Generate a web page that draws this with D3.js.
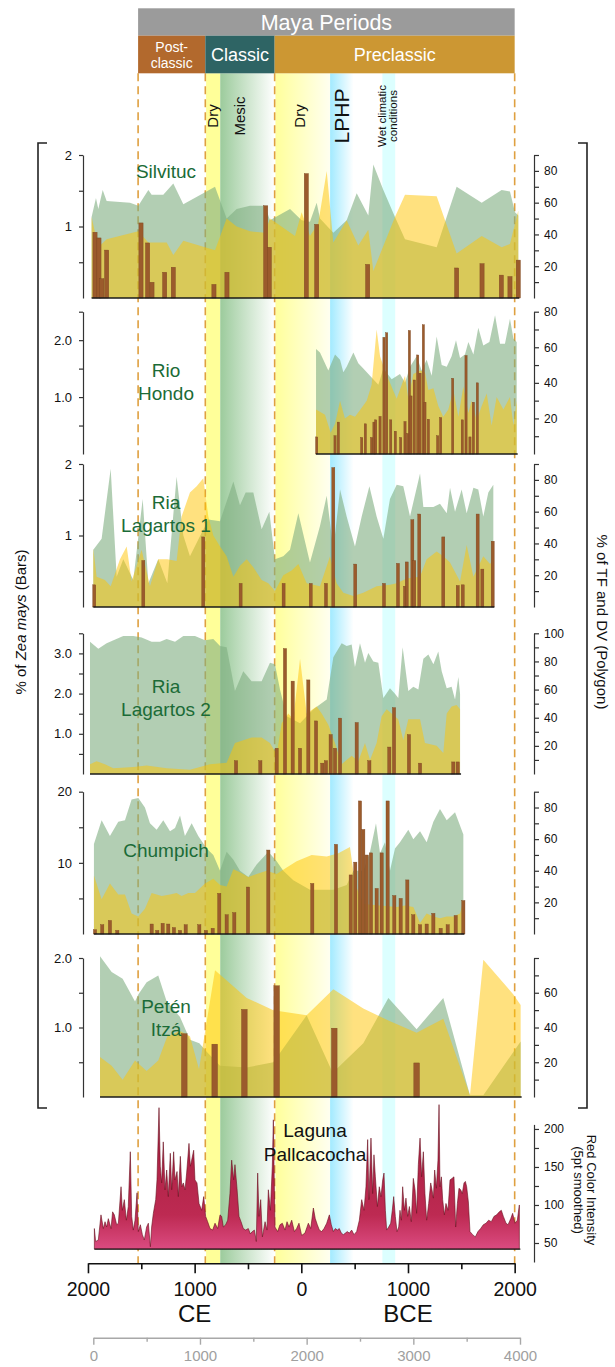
<!DOCTYPE html>
<html>
<head>
<meta charset="utf-8">
<script src="https://cdn.jsdelivr.net/npm/d3@7"></script>
<style>
  body { margin: 0; background: #fff; }
  svg { display: block; font-family: "Liberation Sans", Arial, sans-serif; }
</style>
</head>
<body>
<svg id="chart" width="615" height="1367"></svg>
<script>
// ages are cal yr BP (0 BP = 1950 CE)
const silvitucTF = [[-16,51],[25,63],[47,56],[88,68],[125,61],[344,60],[422,58],[516,68],[547,65],[656,65],[750,72],[844,59],[1141,70],[1250,50],[1344,56],[1469,58],[1609,58],[1656,49],[1844,56],[1953,49],[2031,48],[2094,60],[2125,50],[2250,41],[2375,49],[2469,66],[2578,52],[2625,84],[2719,68],[2828,51],[2922,37],[3219,32],[3406,70],[3641,60],[3828,68],[3906,67],[3953,54],[3984,52]];
const silvitucDV = [[-16,51],[47,32],[125,37],[422,42],[516,35],[688,35],[750,27],[844,36],[1141,30],[1250,50],[1344,45],[1469,42],[1609,41],[1656,50],[1891,39],[1953,54],[2031,39],[2109,47],[2188,80],[2250,35],[2375,49],[2484,33],[2578,43],[2625,17],[2828,51],[2922,65],[3219,64],[3406,28],[3641,39],[3828,32],[3906,34],[3984,55]];
const silvitucZea = [[16,0.92],[53,0.84],[80,0.27],[125,0.67],[447,1.05],[509,0.77],[550,0.22],[669,0.36],[750,0.43],[1131,0.19],[1253,0.36],[1616,1.29],[1650,0.71],[1997,1.74],[2094,1.03],[2572,0.47],[3406,0.42],[3644,0.48],[3825,0.32],[3906,0.30],[3984,0.53]];

const rioHondoTF = [[2088,59],[2125,57],[2203,47],[2266,56],[2313,53],[2344,46],[2375,49],[2438,57],[2484,51],[2531,48],[2594,44],[2672,39],[2719,48],[2797,42],[2875,45],[2922,40],[2969,49],[3031,55],[3078,47],[3125,53],[3172,44],[3219,66],[3266,50],[3313,49],[3359,55],[3400,64],[3438,54],[3484,56],[3516,63],[3563,56],[3609,71],[3656,61],[3713,63],[3766,78],[3813,62],[3859,62],[3906,76],[3938,65],[3969,63]];
const rioHondoDV = [[2088,25],[2172,22],[2225,12],[2266,17],[2313,30],[2359,20],[2406,22],[2453,21],[2516,26],[2563,30],[2609,39],[2656,70],[2688,55],[2734,47],[2781,40],[2844,31],[2922,44],[2953,31],[3000,45],[3063,47],[3109,46],[3141,36],[3188,37],[3234,27],[3281,21],[3328,25],[3375,36],[3422,21],[3469,38],[3516,23],[3547,30],[3594,19],[3641,27],[3688,34],[3734,16],[3781,32],[3844,25],[3906,32],[3938,16],[3969,30]];
const rioHondoZea = [[2094,0.30],[2266,0.32],[2297,0.56],[2516,0.29],[2550,0.53],[2609,0.29],[2631,0.56],[2647,0.60],[2688,0.66],[2725,2.05],[2750,2.13],[2788,0.60],[2831,0.40],[2881,0.29],[2922,0.57],[2947,0.36],[2963,2.17],[2978,1.02],[3009,1.30],[3041,1.74],[3063,1.42],[3094,2.27],[3109,0.91],[3141,0.61],[3228,0.32],[3256,0.64],[3369,1.33],[3459,0.60],[3494,1.73],[3531,0.30],[3563,0.91],[3600,1.25]];

const lagartos1TF = [[0,36],[78,43],[163,87],[219,19],[281,30],[375,17],[463,68],[516,15],[609,30],[694,15],[781,82],[844,45],[906,32],[1078,55],[1188,54],[1313,79],[1375,64],[1428,72],[1500,72],[1578,49],[1650,60],[1703,30],[1781,32],[1844,36],[1922,59],[2031,28],[2125,51],[2188,70],[2250,36],[2313,74],[2375,57],[2453,38],[2516,57],[2588,76],[2656,57],[2719,43],[2781,68],[2844,77],[2906,76],[2969,57],[3063,84],[3094,63],[3188,63],[3250,65],[3313,59],[3344,75],[3391,60],[3453,74],[3500,59],[3563,75],[3609,74],[3656,57],[3703,72],[3750,77]];
const lagartos1DV = [[0,37],[31,19],[109,17],[163,13],[250,30],[313,38],[359,16],[453,36],[531,13],[609,30],[694,30],[781,29],[828,57],[906,72],[969,76],[1031,81],[1078,57],[1125,45],[1188,38],[1250,32],[1313,19],[1375,26],[1438,30],[1500,25],[1578,17],[1641,15],[1703,10],[1781,20],[1859,23],[1922,27],[2000,15],[2125,13],[2219,32],[2281,15],[2344,9],[2438,7],[2531,9],[2656,13],[2781,14],[2844,15],[2938,18],[3063,19],[3125,30],[3219,35],[3281,32],[3344,28],[3438,16],[3500,39],[3563,19],[3656,32],[3719,27],[3750,30]];
const lagartos1Zea = [[9,0.31],[469,0.65],[1031,0.98],[1381,0.33],[1784,0.33],[2038,0.33],[2181,0.33],[2250,1.95],[2456,0.60],[2725,0.33],[2856,0.61],[2922,0.29],[2938,0.63],[2991,1.22],[3009,0.65],[3056,1.30],[3281,0.98],[3416,0.30],[3463,0.31],[3603,1.30],[3647,0.53],[3744,0.92]];

const lagartos2TF = [[-31,94],[47,89],[125,93],[281,98],[375,98],[453,97],[547,94],[625,94],[688,96],[766,94],[844,98],[953,98],[1047,95],[1125,96],[1188,91],[1250,90],[1328,59],[1406,73],[1484,66],[1578,66],[1656,79],[1703,78],[1750,60],[1813,41],[1938,36],[2063,46],[2188,53],[2250,83],[2328,93],[2375,91],[2422,92],[2453,76],[2500,93],[2547,79],[2578,86],[2625,80],[2672,79],[2719,54],[2781,61],[2828,57],[2859,54],[2900,90],[2953,59],[3000,62],[3047,60],[3094,82],[3141,85],[3188,78],[3234,87],[3266,73],[3313,61],[3359,62],[3391,53],[3422,69],[3438,57]];
const lagartos2DV = [[-31,7],[31,9],[109,7],[188,4],[375,5],[500,6],[688,4],[906,3],[1094,7],[1250,8],[1328,22],[1484,26],[1578,26],[1656,22],[1719,14],[1766,36],[1828,43],[1875,39],[1938,82],[2000,43],[2094,48],[2141,43],[2203,35],[2266,22],[2328,7],[2422,13],[2484,9],[2547,22],[2594,10],[2656,22],[2703,41],[2750,46],[2859,39],[2906,24],[2953,39],[3063,39],[3109,22],[3219,20],[3281,15],[3313,43],[3359,48],[3406,49],[3438,46]];
const lagartos2Zea = [[1338,0.33],[1566,0.33],[1719,0.64],[1797,3.12],[1869,2.31],[1938,0.64],[2016,2.34],[2088,1.32],[2147,0.27],[2181,0.33],[2225,0.98],[2266,0.64],[2313,1.39],[2469,1.28],[2588,0.33],[2775,0.67],[2819,1.65],[2959,0.98],[3063,0.27],[3375,0.30],[3416,0.30]];

const chumpichTF = [[6,57],[78,72],[156,62],[234,71],[297,72],[359,85],[422,86],[484,80],[531,70],[594,66],[656,72],[719,65],[766,67],[813,75],[859,62],[922,70],[984,62],[1063,54],[1125,50],[1188,40],[1250,52],[1313,47],[1375,40],[1453,36],[1531,44],[1641,52],[1719,46],[1781,40],[1875,34],[2031,28],[2250,28],[2375,31],[2438,40],[2531,40],[2594,52],[2650,70],[2688,51],[2734,58],[2781,40],[2828,54],[2875,58],[2953,66],[3000,60],[3063,65],[3125,58],[3188,71],[3250,79],[3313,72],[3391,77],[3469,63]];
const chumpichDV = [[6,37],[78,22],[156,32],[234,25],[297,25],[359,13],[422,11],[484,16],[547,26],[641,24],[719,25],[781,26],[828,24],[891,26],[953,26],[1047,32],[1125,35],[1188,31],[1250,30],[1313,41],[1375,39],[1453,36],[1531,38],[1625,40],[1719,38],[1813,42],[1906,46],[2047,50],[2188,49],[2297,51],[2406,55],[2453,32],[2531,19],[2688,18],[2844,17],[2922,18],[3000,17],[3063,7],[3125,13],[3188,11],[3250,10],[3313,11],[3375,11],[3438,13],[3469,21]];
const chumpichZea = [[16,0.6],[84,1.3],[156,1.9],[225,0.5],[547,1.4],[600,0.5],[650,1.5],[703,1.4],[756,0.9],[813,0.5],[866,1.3],[994,1.3],[1056,0.5],[1119,0.8],[1181,5.7],[1250,2.7],[1322,3.0],[1450,6.6],[1641,11.8],[2053,7.1],[2275,12.6],[2413,8.3],[2456,10.1],[2500,18.7],[2531,14.7],[2563,11.1],[2603,11.4],[2656,6.4],[2703,11.4],[2759,18.7],[2822,5.4],[2881,5.0],[2944,7.6],[3000,2.7],[3063,1.3],[3125,1.4],[3188,2.9],[3256,0.8],[3322,1.3],[3397,2.6],[3469,4.7]];

const petenTF = [[63,81],[172,72],[275,68],[391,55],[422,59],[500,66],[609,70],[688,55],[813,46],[906,33],[994,31],[1063,26],[1188,18],[1438,17],[1688,20],[2000,47],[2244,14],[2531,31],[2766,57],[3031,39],[3281,57],[3531,1],[3656,1],[4006,32]];
const petenDV = [[63,23],[172,18],[275,10],[391,21],[500,15],[609,21],[694,35],[813,38],[906,35],[991,16],[1141,73],[1438,57],[1688,50],[2000,47],[2250,62],[2531,51],[2766,44],[3031,37],[3281,45],[3531,1],[3656,79],[3938,59],[4006,53]];
const petenZea = [[853,0.91],[1138,0.76],[1416,1.26],[1719,1.60],[2259,0.99],[3031,0.49]];

const pallcacochaRed = [[10,69],[22,52],[47,54],[72,87],[94,69],[110,78],[125,71],[141,82],[166,69],[181,91],[197,87],[219,74],[235,76],[260,124],[272,93],[291,107],[310,80],[328,98],[347,170],[360,85],[375,67],[391,80],[410,116],[422,65],[441,74],[460,61],[478,54],[500,71],[516,76],[535,45],[547,71],[563,89],[585,107],[597,133],[616,228],[628,151],[641,129],[656,183],[672,120],[688,146],[703,111],[722,168],[735,120],[753,170],[766,133],[785,144],[797,111],[816,164],[829,124],[844,129],[860,120],[875,142],[897,181],[910,151],[922,159],[941,172],[953,133],[972,129],[991,102],[1016,93],[1035,111],[1053,85],[1072,78],[1094,69],[1119,67],[1141,76],[1166,69],[1188,87],[1203,85],[1219,71],[1241,74],[1260,80],[1281,115],[1297,159],[1316,133],[1328,153],[1347,122],[1366,85],[1385,78],[1406,69],[1428,67],[1453,69],[1472,62],[1491,65],[1510,67],[1528,52],[1541,142],[1553,85],[1569,107],[1585,58],[1610,78],[1628,67],[1641,120],[1660,93],[1678,151],[1688,212],[1703,71],[1728,65],[1750,74],[1772,76],[1797,67],[1816,78],[1835,71],[1860,80],[1885,65],[1906,69],[1928,76],
  [1953,60],[1984,63],[2016,76],[2038,69],[2063,96],[2081,82],[2100,74],[2119,67],[2141,65],[2163,69],[2188,76],[2213,87],[2231,74],[2250,65],[2269,69],[2288,67],[2306,69],[2325,63],[2344,61],[2363,63],[2381,65],[2400,63],[2422,67],[2444,61],[2469,65],[2494,80],[2516,107],[2538,93],[2556,124],[2572,186],[2584,107],[2603,188],[2619,115],[2631,166],[2644,137],[2663,98],[2681,124],[2697,111],[2713,133],[2725,142],[2738,93],[2750,67],[2769,71],[2788,76],[2803,93],[2816,111],[2831,85],[2847,65],[2863,71],[2875,93],[2888,80],[2900,124],[2916,93],[2931,109],[2947,85],[2963,98],[2981,78],[3000,135],[3016,120],[3031,89],[3047,153],[3063,188],[3078,137],[3094,170],[3109,115],[3125,80],[3144,102],[3163,129],[3175,120],[3188,109],[3200,146],[3216,122],[3231,159],[3241,232],[3250,124],[3263,137],[3275,107],[3291,87],[3306,102],[3325,93],[3344,133],[3363,135],[3381,137],[3397,71],[3413,102],[3428,122],[3444,120],[3459,115],[3475,129],[3488,131],[3500,124],[3516,104],[3531,65],[3556,61],[3581,58],[3606,65],[3631,69],[3656,74],[3681,76],[3706,80],[3731,78],[3756,85],[3781,87],[3806,91],[3825,93],[3844,85],[3869,76],[3888,74],[3913,82],[3931,89],[3953,76],[3975,80],[3994,100]];

const periodNames = [["Post-", "classic"], ["Classic"], ["Preclassic"]];
const periodBounds = [420, 1050, 1700, 3950];
const yearTicks = [2000, 1500, 1000, 500, 0, -500, -1000, -1500, -2000];
const bpTicks = [0, 500, 1000, 1500, 2000, 2500, 3000, 3500, 4000];

const svg = d3.select("#chart");
const defs = svg.append("defs");
const x = d3.scaleLinear().domain([0, 4000]).range([93.3, 520]);
const BAND_TOP = 73.3, BAND_BOT = 1263.3;

function hGrad(id, c0, c1) {
  const g = defs.append("linearGradient").attr("id", id).attr("x1", 0).attr("x2", 1).attr("y1", 0).attr("y2", 0);
  g.append("stop").attr("offset", 0).attr("stop-color", c0);
  g.append("stop").attr("offset", 1).attr("stop-color", c1);
}

// climate bands
const bands = [
  { from: 1050, to: 1190, id: "bDry1", c0: "#ffff99", c1: "#ffff99" },
  { from: 1190, to: 1700, id: "bMesic", c0: "#9ccb9c", c1: "#ffffff" },
  { from: 1700, to: 2220, id: "bDry2", c0: "#ffff9a", c1: "#fffff0" },
  { from: 2220, to: 2440, id: "bLphp", c0: "#a2eaff", c1: "#ffffff" },
  { from: 2710, to: 2830, id: "bWet", c0: "#dcffff", c1: "#dcffff" }
];
bands.forEach(b => {
  hGrad(b.id, b.c0, b.c1);
  svg.append("rect").attr("x", x(b.from)).attr("y", BAND_TOP)
    .attr("width", x(b.to) - x(b.from)).attr("height", BAND_BOT - BAND_TOP)
    .attr("fill", `url(#${b.id})`);
});

// period boundaries
periodBounds.forEach(a => {
  svg.append("line").attr("x1", x(a)).attr("x2", x(a)).attr("y1", BAND_TOP).attr("y2", BAND_BOT)
    .attr("stroke", "#fff").attr("stroke-width", 1.6);
  svg.append("line").attr("x1", x(a)).attr("x2", x(a)).attr("y1", BAND_TOP).attr("y2", BAND_BOT)
    .attr("stroke", "#dfa040").attr("stroke-width", 1.6).attr("stroke-dasharray", "8,5");
});

// header
svg.append("rect").attr("x", x(420)).attr("y", 8.3).attr("width", x(3950) - x(420)).attr("height", 27.4).attr("fill", "#9b9b9b");
svg.append("text").attr("x", (x(420) + x(3950)) / 2).attr("y", 29.5).attr("text-anchor", "middle")
  .attr("fill", "#fff").attr("font-size", 21.5).text("Maya Periods");
const periodFill = ["#b2692d", "#2e6464", "#cc9733"];
periodNames.forEach((lines, i) => {
  const x0 = x(periodBounds[i]), x1 = x(periodBounds[i + 1]);
  svg.append("rect").attr("x", x0).attr("y", 35.7).attr("width", x1 - x0).attr("height", 37.6).attr("fill", periodFill[i]);
  const t = svg.append("text").attr("text-anchor", "middle").attr("fill", "#fff")
    .attr("font-size", lines.length > 1 ? 14 : 18);
  lines.forEach((s, j) => {
    t.append("tspan").attr("x", (x0 + x1) / 2)
      .attr("y", lines.length > 1 ? 51.5 + j * 16 : 60.5).text(s);
  });
});

// band labels
const bandLabels = [
  { age: 1117, text: "Dry", size: 15 },
  { age: 1374, text: "Mesic", size: 15 },
  { age: 1936, text: "Dry", size: 15 },
  { age: 2327, text: "LPHP", size: 21 },
  { age: 2704, text: "Wet climatic", size: 11.5 },
  { age: 2810, text: "conditions", size: 11.5 }
];
bandLabels.forEach(l => {
  svg.append("text").attr("transform", `translate(${x(l.age)},116) rotate(-90)`)
    .attr("text-anchor", "middle").attr("dominant-baseline", "central")
    .attr("font-size", l.size).attr("fill", "#111").text(l.text);
});

// proxy panels
const panels = [
  { name: ["Silvituc"], ny: 178, base: 298, top: 155, lMax: 2, lStep: 0.5, lLab: [1, 2], fmt: d3.format("d"), rMax: 90, rLab: [20, 40, 60, 80], tf: silvitucTF, dv: silvitucDV, zea: silvitucZea, bw: 4.2 },
  { name: ["Rio", "Hondo"], ny: 377, base: 454, top: 311.7, lMax: 2.5, lStep: 0.5, lLab: [1, 2], fmt: d3.format(".1f"), rMax: 80, rLab: [20, 40, 60, 80], tf: rioHondoTF, dv: rioHondoDV, zea: rioHondoZea, bw: 2.2 },
  { name: ["Ria", "Lagartos 1"], ny: 509, base: 607, top: 464, lMax: 2, lStep: 0.5, lLab: [1, 2], fmt: d3.format("d"), rMax: 90, rLab: [20, 40, 60, 80], tf: lagartos1TF, dv: lagartos1DV, zea: lagartos1Zea, bw: 3 },
  { name: ["Ria", "Lagartos 2"], ny: 693, base: 774, top: 633.3, lMax: 3.5, lStep: 0.5, lLab: [1, 2, 3], fmt: d3.format(".1f"), rMax: 100, rLab: [20, 40, 60, 80, 100], tf: lagartos2TF, dv: lagartos2DV, zea: lagartos2Zea, bw: 3.2 },
  { name: ["Chumpich"], ny: 857, base: 934, top: 791.7, lMax: 20, lStep: 5, lLab: [10, 20], fmt: d3.format("d"), rMax: 90, rLab: [20, 40, 60, 80], tf: chumpichTF, dv: chumpichDV, zea: chumpichZea, bw: 3.2 },
  { name: ["Petén", "Itzá"], ny: 1013, base: 1097, top: 958, lMax: 2, lStep: 0.5, lLab: [1, 2], fmt: d3.format(".1f"), rMax: 80, rLab: [20, 40, 60], tf: petenTF, dv: petenDV, zea: petenZea, bw: 5.6 }
];

panels.forEach(p => {
  const yL = d3.scaleLinear().domain([0, p.lMax]).range([p.base, p.top]);
  const yR = d3.scaleLinear().domain([0, p.rMax]).range([p.base, p.top]);
  const g = svg.append("g");
  const area = d3.area().x(d => x(d[0])).y0(p.base).y1(d => yR(d[1]));
  g.append("path").datum(p.tf).attr("d", area).attr("fill", "#7fae80").attr("fill-opacity", 0.6);
  g.append("path").datum(p.dv).attr("d", area).attr("fill", "#ffc400").attr("fill-opacity", 0.5);

  g.selectAll("rect.zea").data(p.zea).join("rect").attr("class", "zea")
    .attr("x", d => x(d[0]) - p.bw / 2).attr("y", d => yL(d[1]))
    .attr("width", p.bw).attr("height", d => p.base - yL(d[1]))
    .attr("fill", "#9b5b2c").attr("stroke", "#7a4520").attr("stroke-width", 0.4);

  const ext = d3.extent([...p.tf, ...p.dv, ...p.zea], d => d[0]);
  g.append("line").attr("x1", x(ext[0])).attr("x2", x(ext[1]) + 1).attr("y1", p.base).attr("y2", p.base)
    .attr("stroke", "#1a1a1a").attr("stroke-width", 1.3);

  const la = d3.axisLeft(yL).tickValues(d3.range(p.lStep, p.lMax + 1e-9, p.lStep))
    .tickSize(4).tickSizeOuter(0).tickPadding(7)
    .tickFormat(d => p.lLab.includes(d) ? p.fmt(d) : "");
  const lg = g.append("g").attr("transform", "translate(83,0)").call(la);
  lg.attr("font-family", null).attr("font-size", 13);
  lg.selectAll("path,line").attr("stroke", "#333").attr("stroke-width", 1.2);
  lg.selectAll("text").attr("fill", "#111");

  const ra = d3.axisRight(yR).tickValues(d3.range(10, p.rMax + 1e-9, 10))
    .tickSize(5).tickSizeOuter(0).tickPadding(5)
    .tickFormat(d => p.rLab.includes(d) ? d : "");
  const rg = g.append("g").attr("transform", "translate(534,0)").call(ra);
  rg.attr("font-family", null).attr("font-size", 12);
  rg.selectAll("path,line").attr("stroke", "#333").attr("stroke-width", 1.2);
  rg.selectAll("text").attr("fill", "#111");

  const t = g.append("text").attr("text-anchor", "middle").attr("fill", "#1b6b37").attr("font-size", 19);
  p.name.forEach((s, j) => t.append("tspan").attr("x", 166).attr("y", p.ny + j * 22.5).text(s));
});

// Laguna Pallcacocha red colour intensity
const yLag = d3.scaleLinear().domain([25, 206]).range([1262, 1124.4]);
const lg2 = defs.append("linearGradient").attr("id", "lagFill").attr("gradientUnits", "userSpaceOnUse")
  .attr("x1", 0).attr("x2", 0).attr("y1", 1110).attr("y2", 1250);
lg2.append("stop").attr("offset", 0).attr("stop-color", "#a31d3c");
lg2.append("stop").attr("offset", 0.75).attr("stop-color", "#bd2a52");
lg2.append("stop").attr("offset", 1).attr("stop-color", "#dc4c82");
svg.append("path").datum(pallcacochaRed)
  .attr("d", d3.area().x(d => x(d[0])).y0(yLag(42)).y1(d => yLag(d[1])))
  .attr("fill", "url(#lagFill)").attr("stroke", "#6a0f1e").attr("stroke-width", 0.6);
const lagExt = d3.extent(pallcacochaRed, d => d[0]);
svg.append("line").attr("x1", x(lagExt[0])).attr("x2", x(lagExt[1]) + 1).attr("y1", yLag(42)).attr("y2", yLag(42))
  .attr("stroke", "#1a1a1a").attr("stroke-width", 1.3);
const lagAxis = svg.append("g").attr("transform", "translate(534,0)")
  .call(d3.axisRight(yLag).tickValues(d3.range(50, 201, 25)).tickSize(5).tickSizeOuter(0).tickPadding(5)
    .tickFormat(d => d % 50 === 0 ? d : ""));
lagAxis.attr("font-family", null).attr("font-size", 12);
lagAxis.selectAll("path,line").attr("stroke", "#333").attr("stroke-width", 1.2);
lagAxis.selectAll("text").attr("fill", "#111");
const lt = svg.append("text").attr("text-anchor", "middle").attr("fill", "#111").attr("font-size", 19);
["Laguna", "Pallcacocha"].forEach((s, j) => lt.append("tspan").attr("x", 315).attr("y", 1137 + j * 23.5).text(s));
svg.append("text").attr("transform", "translate(591,1190) rotate(90)").attr("text-anchor", "middle")
  .attr("dominant-baseline", "central").attr("font-size", 13).attr("fill", "#111").text("Red Color Intensity");
svg.append("text").attr("transform", "translate(578,1190) rotate(90)").attr("text-anchor", "middle")
  .attr("dominant-baseline", "central").attr("font-size", 13).attr("fill", "#111").text("(5pt smoothed)");

// brackets and side titles
svg.append("path").attr("d", "M47,143H38V1108H47").attr("fill", "none").attr("stroke", "#222").attr("stroke-width", 1.6);
svg.append("path").attr("d", "M578,143H587V1108H578").attr("fill", "none").attr("stroke", "#222").attr("stroke-width", 1.6);
const zt = svg.append("text").attr("transform", "translate(20,622) rotate(-90)").attr("text-anchor", "middle")
  .attr("dominant-baseline", "central").attr("font-size", 15).attr("fill", "#111");
zt.append("tspan").text("% of ");
zt.append("tspan").attr("font-style", "italic").text("Zea mays");
zt.append("tspan").text(" (Bars)");
svg.append("text").attr("transform", "translate(602,622) rotate(90)").attr("text-anchor", "middle")
  .attr("dominant-baseline", "central").attr("font-size", 15).attr("fill", "#111").text("% of TF and DV (Polygon)");

// calendar axis
const yearX = d3.scaleLinear().domain([2000, -2000]).range([x(-50), x(3950)]);
const ya = svg.append("g").attr("transform", `translate(0,${BAND_BOT})`)
  .call(d3.axisBottom(yearX).tickValues(yearTicks).tickSize(6).tickSizeOuter(0)
    .tickFormat(d => d % 1000 === 0 ? Math.abs(d) : ""));
ya.attr("font-family", null).attr("font-size", 19.5);
ya.selectAll("path,line").attr("stroke", "#111").attr("stroke-width", 1.6);
ya.selectAll(".tick").filter(d => d % 1000 === 0).select("line").attr("y2", 10);
ya.selectAll("text").attr("y", 19).attr("fill", "#111");
svg.append("text").attr("x", yearX(1000)).attr("y", 1322).attr("text-anchor", "middle").attr("font-size", 24).attr("fill", "#111").text("CE");
svg.append("text").attr("x", yearX(-1000)).attr("y", 1322).attr("text-anchor", "middle").attr("font-size", 24).attr("fill", "#111").text("BCE");

// cal BP axis
const ba = svg.append("g").attr("transform", "translate(0,1337.7)")
  .call(d3.axisBottom(x).tickValues(bpTicks).tickSize(4).tickSizeOuter(0)
    .tickFormat(d => d % 1000 === 0 ? d : ""));
ba.attr("font-family", null).attr("font-size", 15);
ba.selectAll("path,line").attr("stroke", "#a8a8a8").attr("stroke-width", 1.4);
ba.selectAll(".tick").filter(d => d % 1000 === 0).select("line").attr("y2", 7);
ba.selectAll("text").attr("y", 13).attr("fill", "#a0a0a0");
</script>
</body>
</html>
